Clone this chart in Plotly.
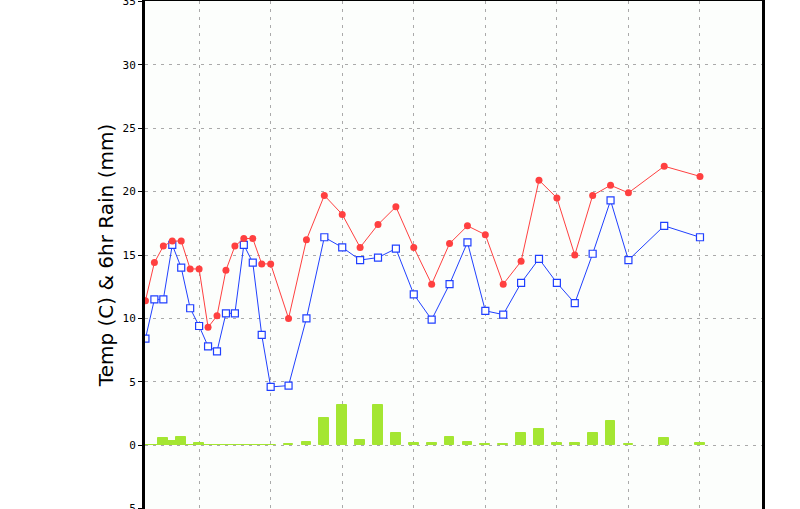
import plotly.graph_objects as go

# time index in 3-hour steps from the start of the chart
temp_idx = [0, 1, 2, 3, 4, 5, 6, 7, 8, 9, 10, 11, 12, 13, 14, 16, 18, 20, 22, 24, 26, 28,
            30, 32, 34, 36, 38, 40, 42, 44, 46, 48, 50, 52, 54, 58, 62]
temp = [11.4, 14.4, 15.7, 16.1, 16.1, 13.9, 13.9, 9.3, 10.2, 13.8, 15.7, 16.3, 16.3, 14.3, 14.3,
        10.0, 16.2, 19.7, 18.2, 15.6, 17.4, 18.8, 15.6, 12.7, 15.9, 17.3, 16.6, 12.7, 14.5,
        20.9, 19.5, 15.0, 19.7, 20.5, 19.9, 22.0, 21.2]
dewp = [8.4, 11.5, 11.5, 15.8, 14.0, 10.8, 9.4, 7.8, 7.4, 10.4, 10.4, 15.8, 14.4, 8.7, 4.6,
        4.7, 10.0, 16.4, 15.6, 14.6, 14.8, 15.5, 11.9, 9.9, 12.7, 16.0, 10.6, 10.3, 12.8,
        14.7, 12.8, 11.2, 15.1, 19.3, 14.6, 17.3, 16.4]

rain_idx = [0, 1, 2, 3, 4, 5, 6, 7, 8, 9, 10, 11, 12, 13, 14, 16, 18, 20, 22, 24, 26, 28,
            30, 32, 34, 36, 38, 40, 42, 44, 46, 48, 50, 52, 54, 58, 62]
rain = [0, 0, 0.55, 0.3, 0.63, 0, 0.16, 0, 0, 0, 0, 0, 0, 0, 0, 0.08, 0.24, 2.12, 3.14, 0.39,
        3.14, 0.94, 0.16, 0.16, 0.63, 0.24, 0.08, 0.08, 0.94, 1.26, 0.16, 0.16, 0.94, 1.89,
        0.08, 0.55, 0.16]

y_ticks = [-5, 0, 5, 10, 15, 20, 25, 30, 35]

STEP_H = 3
temp_x = [i * STEP_H for i in temp_idx]
rain_x = [i * STEP_H for i in rain_idx]

RED = "#ff4040"
BLUE = "#2040ff"
GREEN = "#a4e632"
GRID = "#aaaaaa"

fig = go.Figure()
fig.add_trace(go.Bar(
    x=rain_x, y=rain, width=3.3,
    marker=dict(color=GREEN, line=dict(color=GREEN, width=1)),
    showlegend=False,
))
fig.add_trace(go.Scatter(
    x=temp_x, y=dewp, mode="lines+markers",
    line=dict(color=BLUE, width=1),
    marker=dict(symbol="square", size=7, color="white", line=dict(color=BLUE, width=1.2)),
    showlegend=False,
))
fig.add_trace(go.Scatter(
    x=temp_x, y=temp, mode="lines+markers",
    line=dict(color=RED, width=1),
    marker=dict(symbol="circle", size=7, color=RED),
    showlegend=False,
))

fig.update_layout(
    width=800, height=509,
    margin=dict(l=145, r=38, t=1, b=0),
    paper_bgcolor="white",
    plot_bgcolor="#fcfefc",
    bargap=0,
    font=dict(family="Liberation Sans, Arial, sans-serif", color="black"),
)
fig.update_xaxes(
    range=[-0.15, 206.8],
    tick0=18, dtick=24,
    showgrid=True, gridcolor=GRID, gridwidth=1, griddash="3px,5px",
    showticklabels=False, ticks="",
    showline=True, linecolor="black", linewidth=3, mirror=True,
    zeroline=False, automargin=False,
)
fig.update_yaxes(
    range=[-5.03, 35.03],
    tickvals=y_ticks, ticktext=[str(v) for v in y_ticks],
    showgrid=True, gridcolor=GRID, gridwidth=1, griddash="3px,5px",
    ticks="outside", ticklen=4, tickcolor="black",
    tickfont=dict(size=11, family="DejaVu Sans Mono, monospace"),
    ticklabeloverflow="allow",
    showline=True, linecolor="black", linewidth=3, mirror=True,
    zeroline=False, automargin=False,
    title=dict(text="Temp (C) & 6hr Rain (mm)",
               font=dict(size=20, family="DejaVu Sans, sans-serif"), standoff=4),
)

fig.write_html("out.html", config={"displayModeBar": False},
               post_script="document.body.style.margin='0';")
